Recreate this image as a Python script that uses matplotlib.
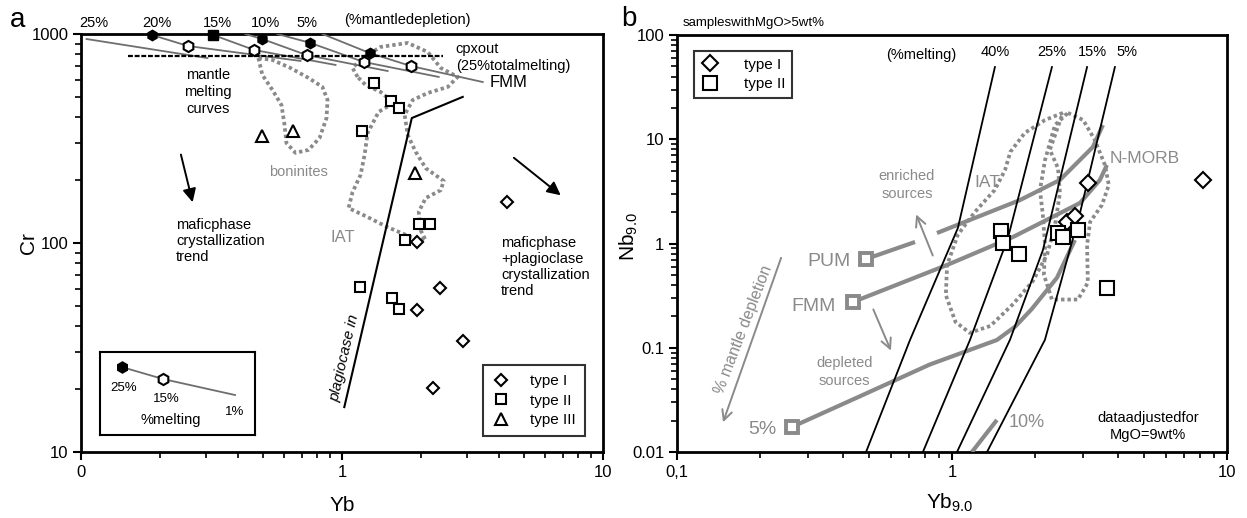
import numpy as np
import matplotlib
matplotlib.use("Agg")
import matplotlib.pyplot as plt
from matplotlib.ticker import LogLocator, NullFormatter

plt.rcParams['font.family'] = ['Liberation Sans', 'DejaVu Sans']
plt.rcParams['mathtext.fontset'] = 'custom'
plt.rcParams['mathtext.rm'] = 'Liberation Sans'

GREY = '#8a8a8a'
DOT = (0, (0.9, 0.8))

# ---------------- panel a : Yb vs Cr ----------------
a_type1_yb = [1.93, 4.28, 2.37, 1.93, 2.90, 2.24]
a_type1_cr = [101, 157, 61, 48, 34, 20.2]
a_type2_yb = [1.32, 1.54, 1.65, 1.19, 1.97, 2.17, 1.75, 1.17, 1.56, 1.65]
a_type2_cr = [583, 478, 442, 343, 123, 123, 103, 61.6, 54.6, 48.3]
a_type3_yb = [0.495, 0.651, 1.90]
a_type3_cr = [325, 343, 216]

# mantle melting curves for 25..0 % mantle depletion
curve25_yb, curve25_cr = [0.105, 0.305], [946, 767]
curve20_yb, curve20_cr = [0.187, 0.257, 0.693], [989, 876, 743]
curve15_yb, curve15_cr = [0.321, 0.461, 0.944], [989, 838, 711]
curve10_yb, curve10_cr = [0.426, 0.495, 0.731, 1.495], [1000, 946, 793, 665]
curve05_yb, curve05_cr = [0.565, 0.757, 1.209, 2.346], [1000, 906, 735, 623]
curve00_yb, curve00_cr = [0.841, 1.275, 1.832, 3.46], [1000, 811, 703, 589]
melt25_yb = [0.187, 0.321, 0.495, 0.757, 1.275]
melt25_cr = [989, 989, 946, 906, 811]
melt25_mk = ['h', 's', 'h', 'h', 'h']
melt15_yb = [0.257, 0.461, 0.731, 1.209, 1.832]
melt15_cr = [876, 838, 793, 735, 703]

cpx_yb, cpx_cr = [0.151, 2.43], [785, 785]
plag_yb, plag_cr = [1.02, 1.85, 2.90], [16.4, 396, 500]

bon_yb = [0.478, 0.495, 0.541, 0.586, 0.602, 0.612, 0.663, 0.744, 0.820,
          0.872, 0.880, 0.841, 0.744, 0.634, 0.541]
bon_cr = [767, 637, 540, 457, 367, 301, 270, 279, 318, 396, 483, 558, 616,
          688, 751]
iat_a_yb = [1.147, 1.097, 1.198, 1.405, 1.784, 2.129, 2.388, 2.776, 2.541,
            2.129, 1.865, 1.737, 1.784, 1.915, 2.092, 2.453, 2.388, 2.092,
            1.967, 2.001, 2.092, 1.832, 1.495, 1.253, 1.059, 1.097, 1.178,
            1.220, 1.253, 1.381, 1.577, 1.405, 1.231]
iat_a_cr = [623, 688, 767, 867, 906, 820, 688, 623, 558, 522, 483, 410, 329,
            273, 228, 198, 179, 164, 141, 115, 103, 107, 119, 133, 147, 175,
            212, 264, 336, 424, 468, 528, 570]

# ---------------- panel b : Yb9.0 vs Nb9.0 ----------------
b_type1_yb = [8.18, 3.12, 2.62, 2.80]
b_type1_nb = [4.07, 3.80, 1.61, 1.84]
b_type2_yb = [1.51, 1.53, 1.75, 2.43, 2.53, 2.87, 3.66]
b_type2_nb = [1.32, 1.01, 0.793, 1.26, 1.15, 1.35, 0.374]

melt40_yb, melt40_nb = [1.433, 1.051, 0.704, 0.487], [49.3, 1.41, 0.119, 0.01]
melt25b_yb, melt25b_nb = [2.31, 1.598, 1.163, 0.784], [49.3, 1.13, 0.119, 0.01]
melt15b_yb, melt15b_nb = [3.10, 2.142, 1.625, 1.043], [49.3, 0.866, 0.119, 0.01]
melt05b_yb, melt05b_nb = [3.914, 2.921, 2.178, 1.341], [49.3, 1.96, 0.119, 0.01]

pum_yb = [0.487, 0.734, np.nan, 0.882, 1.767, 2.47, 3.255, 3.54]
pum_nb = [0.710, 1.034, np.nan, 1.261, 2.61, 4.07, 8.43, 13.7]
fmm_yb = [0.4365, 0.959, 1.666, 2.921, 3.452, 3.661]
fmm_nb = [0.2747, 0.622, 1.154, 2.446, 4.07, 5.66]
dep5_yb = [0.262, 0.46, 0.83, 1.457, 1.70, 1.95, 2.41, 2.80]
dep5_nb = [0.0174, 0.034, 0.069, 0.1187, 0.160, 0.235, 0.470, 1.08]
dep10_yb = [1.182, 1.457]
dep10_nb = [0.01, 0.0203]

iat_b_yb = [2.53, 2.18, 1.84, 1.63, 1.56, 1.43, 1.21, 1.05, 0.96, 0.95,
            1.03, 1.16, 1.38, 1.67, 1.97, 2.22, 2.37, 2.47, 2.43, 2.27]
iat_b_nb = [17.9, 15.3, 11.5, 7.55, 5.07, 3.26, 2.0, 1.21, 0.62, 0.32,
            0.177, 0.139, 0.162, 0.263, 0.437, 0.79, 1.5, 3.05, 5.3, 7.9]
morb_yb = [2.64, 3.0, 3.31, 3.6, 3.72, 3.51, 3.18, 3.10, 3.12, 2.87, 2.31,
           2.16, 2.18, 2.14, 2.09, 2.18, 2.37]
morb_nb = [17.9, 15.3, 9.83, 5.66, 3.64, 2.34, 1.61, 0.97, 0.42, 0.29, 0.29,
           0.50, 0.97, 1.88, 3.26, 6.32, 13.7]

fig = plt.figure(figsize=(12.47, 5.18), dpi=100)
ax = fig.add_axes([0.065, 0.1274, 0.4186, 0.807])
bx = fig.add_axes([0.5429, 0.1274, 0.441, 0.805])


def style_log_axes(axis):
    axis.set_xscale('log')
    axis.set_yscale('log')
    for s in axis.spines.values():
        s.set_linewidth(2)
    axis.tick_params(which='major', direction='out', length=6, width=1.5,
                     labelsize=12, pad=3)
    axis.tick_params(which='minor', direction='out', length=4, width=1.2)
    axis.xaxis.set_minor_locator(LogLocator(subs=range(2, 10)))
    axis.yaxis.set_minor_locator(LogLocator(subs=range(2, 10)))
    axis.xaxis.set_minor_formatter(NullFormatter())
    axis.yaxis.set_minor_formatter(NullFormatter())


def closed(xs, ys):
    return list(xs) + [xs[0]], list(ys) + [ys[0]]


# ---- panel a ----
style_log_axes(ax)
ax.set_xlim(0.1, 10)
ax.set_ylim(10, 1000)
ax.set_xticks([0.1, 1, 10])
ax.set_xticklabels(['0', '1', '10'])
ax.set_yticks([10, 100, 1000])
ax.set_yticklabels(['10', '100', '1000'])

ax.plot(*closed(bon_yb, bon_cr), ls=DOT, lw=2.7, color=GREY, zorder=2)
ax.plot(*closed(iat_a_yb, iat_a_cr), ls=DOT, lw=2.7, color=GREY, zorder=2)

for cx, cy in [(curve25_yb, curve25_cr), (curve20_yb, curve20_cr),
               (curve15_yb, curve15_cr), (curve10_yb, curve10_cr),
               (curve05_yb, curve05_cr), (curve00_yb, curve00_cr)]:
    ax.plot(cx, cy, color='#6e6e6e', lw=1.3, zorder=3)
ax.plot(cpx_yb, cpx_cr, color='k', lw=1.6, ls=(0, (2.2, 0.8)), zorder=4)
for x, y, m in zip(melt25_yb, melt25_cr, melt25_mk):
    ax.plot(x, y, marker=m, ms=7.5, color='k', clip_on=False, zorder=6)
ax.plot(melt15_yb, melt15_cr, ls='none', marker='h', ms=8, mfc='white',
        mec='k', mew=1.5, zorder=6)

ax.plot(plag_yb, plag_cr, color='k', lw=1.5, zorder=3)

mk = dict(ls='none', mfc='white', mec='k', mew=1.5, zorder=7)
ax.plot(a_type1_yb, a_type1_cr, marker='D', ms=6.5, label='type I', **mk)
ax.plot(a_type2_yb, a_type2_cr, marker='s', ms=7.5, label='type II', **mk)
ax.plot(a_type3_yb, a_type3_cr, marker='^', ms=9, label='type III', **mk)

leg = ax.legend(loc='lower right', bbox_to_anchor=(0.966, 0.038),
                fontsize=11, frameon=True, fancybox=False, handlelength=1.2,
                handletextpad=1.3, labelspacing=0.35, borderpad=0.6,
                borderaxespad=0)
leg.get_frame().set_edgecolor('k')
leg.get_frame().set_linewidth(1.5)

tA = ax.transAxes
ax.text(0.243, 0.861, 'mantle\nmelting\ncurves', transform=tA, ha='center',
        va='center', fontsize=10.5, linespacing=1.25)
ax.text(0.718, 0.944, 'cpxout\n(25%totalmelting)', transform=tA,
        ha='left', va='center', fontsize=10.5, linespacing=1.3)
ax.text(0.782, 0.885, 'FMM', transform=tA, ha='left', va='center',
        fontsize=12)
ax.text(0.416, 0.670, 'boninites', transform=tA, ha='center', va='center',
        fontsize=10.5, color=GREY)
ax.text(0.502, 0.514, 'IAT', transform=tA, ha='center', va='center',
        fontsize=12, color=GREY)
ax.text(0.182, 0.505, 'maficphase\ncrystallization\ntrend', transform=tA,
        ha='left', va='center', fontsize=10.5, linespacing=1.2)
ax.text(0.805, 0.443, 'maficphase\n+plagioclase\ncrystallization\ntrend',
        transform=tA, ha='left', va='center', fontsize=10.5, linespacing=1.2)
ax.text(0.504, 0.225, 'plagiocase in', transform=tA, ha='center',
        va='center', fontsize=11, style='italic', rotation=77)
arrow_k = dict(arrowstyle='-|>', color='k', lw=1.4, mutation_scale=20)
ax.annotate('', xy=(0.215, 0.591), xytext=(0.190, 0.718),
            xycoords=tA, arrowprops=arrow_k)
ax.annotate('', xy=(0.923, 0.610), xytext=(0.825, 0.708),
            xycoords=tA, arrowprops=arrow_k)

for fx, lab in [(0.025, '25%'), (0.146, '20%'), (0.262, '15%'),
                (0.354, '10%'), (0.433, '5%')]:
    ax.text(fx, 1.026, lab, transform=tA, ha='center', va='center',
            fontsize=10.5)
ax.text(0.626, 1.033, '(%mantledepletion)', transform=tA, ha='center',
        va='center', fontsize=10.5)
ax.text(-0.1, 0.5, 'Cr', transform=tA, rotation=90, ha='center',
        va='center', fontsize=15)
ax.text(0.5, -0.127, 'Yb', transform=tA, ha='center', va='center',
        fontsize=15)
fig.text(0.0144, 0.961, 'a', fontsize=20, ha='center', va='center')

# key for the melting markers
key = fig.add_axes([0.0802, 0.1602, 0.1243, 0.1602])
key_x = [0.142, 0.406, 0.871]
key_y = [0.819, 0.675, 0.482]
key.set_xlim(0, 1)
key.set_ylim(0, 1)
key.set_xticks([])
key.set_yticks([])
for s in key.spines.values():
    s.set_linewidth(1.5)
key.plot(key_x, key_y, color='#6e6e6e', lw=1.3)
key.plot(key_x[0], key_y[0], marker='h', ms=8, color='k')
key.plot(key_x[1], key_y[1], marker='h', ms=8, mfc='white', mec='k', mew=1.5)
key.text(0.155, 0.566, '25%', ha='center', va='center', fontsize=9.5)
key.text(0.426, 0.434, '15%', ha='center', va='center', fontsize=9.5)
key.text(0.871, 0.277, '1%', ha='center', va='center', fontsize=9.5)
key.text(0.458, 0.18, '%melting', ha='center', va='center', fontsize=10.5)

# ---- panel b ----
style_log_axes(bx)
bx.set_xlim(0.1, 10)
bx.set_ylim(0.01, 100)
bx.set_xticks([0.1, 1, 10])
bx.set_xticklabels(['0,1', '1', '10'])
bx.set_yticks([0.01, 0.1, 1, 10, 100])
bx.set_yticklabels(['0.01', '0.1', '1', '10', '100'])

bx.plot(*closed(iat_b_yb, iat_b_nb), ls=DOT, lw=2.7, color=GREY, zorder=2)
bx.plot(*closed(morb_yb, morb_nb), ls=DOT, lw=2.7, color=GREY, zorder=2)

gkw = dict(color=GREY, lw=3, zorder=3, solid_capstyle='butt')
bx.plot(pum_yb, pum_nb, **gkw)
bx.plot(fmm_yb, fmm_nb, **gkw)
bx.plot(dep5_yb, dep5_nb, **gkw)
bx.plot(dep10_yb, dep10_nb, **gkw)
sq = dict(ls='none', marker='s', ms=8.5, mfc='white', mec=GREY, mew=2.8,
          zorder=5)
bx.plot(pum_yb[0], pum_nb[0], **sq)
bx.plot(fmm_yb[0], fmm_nb[0], **sq)
bx.plot(dep5_yb[0], dep5_nb[0], **sq)

for mx, my in [(melt40_yb, melt40_nb), (melt25b_yb, melt25b_nb),
               (melt15b_yb, melt15b_nb), (melt05b_yb, melt05b_nb)]:
    bx.plot(mx, my, color='k', lw=1.3, zorder=4)

bx.plot(b_type1_yb, b_type1_nb, marker='D', ms=8, label='type I', **mk)
bx.plot(b_type2_yb, b_type2_nb, marker='s', ms=9.5, label='type II', **mk)
leg_b = bx.legend(loc='upper left', bbox_to_anchor=(0.031, 0.962),
                  fontsize=11, frameon=True, fancybox=False,
                  handlelength=1.2, handletextpad=1.6, labelspacing=0.35,
                  borderpad=0.45, borderaxespad=0)
leg_b.get_frame().set_edgecolor('k')
leg_b.get_frame().set_linewidth(1.5)

tB = bx.transAxes
bx.text(0.011, 1.029, 'sampleswithMgO>5wt%', transform=tB, ha='left',
        va='center', fontsize=9.5)
bx.text(0.445, 0.952, '(%melting)', transform=tB, ha='center', va='center',
        fontsize=10.5)
for fx, lab in [(0.578, '40%'), (0.682, '25%'), (0.755, '15%'),
                (0.818, '5%')]:
    bx.text(fx, 0.959, lab, transform=tB, ha='center', va='center',
            fontsize=10.5)
bx.text(0.418, 0.640, 'enriched\nsources', transform=tB, ha='center',
        va='center', fontsize=10.5, color=GREY, linespacing=1.3)
bx.text(0.305, 0.192, 'depleted\nsources', transform=tB, ha='center',
        va='center', fontsize=10.5, color=GREY, linespacing=1.3)
bx.text(0.565, 0.647, 'IAT', transform=tB, ha='center', va='center',
        fontsize=12.5, color=GREY)
bx.text(0.851, 0.705, 'N-MORB', transform=tB, ha='center', va='center',
        fontsize=12.5, color=GREY)
bx.text(0.315, 0.456, 'PUM', transform=tB, ha='right', va='center',
        fontsize=14, color=GREY)
bx.text(0.249, 0.350, 'FMM', transform=tB, ha='center', va='center',
        fontsize=14, color=GREY)
bx.text(0.155, 0.053, '5%', transform=tB, ha='center', va='center',
        fontsize=14, color=GREY)
bx.text(0.636, 0.070, '10%', transform=tB, ha='center', va='center',
        fontsize=13, color=GREY)
bx.text(0.12, 0.293, '% mantle depletion', transform=tB, ha='center',
        va='center', fontsize=11.5, color=GREY, rotation=69)
bx.text(0.856, 0.062, 'dataadjustedfor\nMgO=9wt%', transform=tB,
        ha='center', va='center', fontsize=10.5, linespacing=1.3)
arrow_g = dict(arrowstyle='->', color=GREY, lw=1.4, mutation_scale=18)
bx.annotate('', xy=(0.433, 0.576), xytext=(0.467, 0.465), xycoords=tB,
            arrowprops=arrow_g)
bx.annotate('', xy=(0.391, 0.237), xytext=(0.355, 0.348), xycoords=tB,
            arrowprops=arrow_g)
bx.annotate('', xy=(0.082, 0.065), xytext=(0.191, 0.472), xycoords=tB,
            arrowprops=arrow_g)
bx.text(-0.088, 0.516, r'Nb$_\mathregular{9.0}$', transform=tB, rotation=90,
        ha='center', va='center', fontsize=15)
bx.text(0.496, -0.122, r'Yb$_\mathregular{9.0}$', transform=tB,
        ha='center', va='center', fontsize=15)
fig.text(0.504, 0.963, 'b', fontsize=20, ha='center', va='center')

fig.savefig('out.png', dpi=100)
